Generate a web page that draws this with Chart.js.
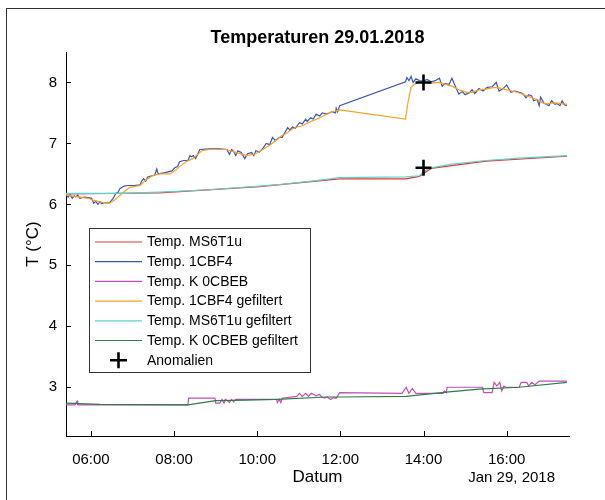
<!DOCTYPE html>
<html><head><meta charset="utf-8">
<script src="https://cdn.jsdelivr.net/npm/chart.js@4.4.1/dist/chart.umd.min.js"></script>
<style>html,body{margin:0;padding:0;background:#fff;}#wrap{width:605px;height:500px;position:relative;}</style>
</head><body><div id="wrap"><canvas id="c" width="605" height="500"></canvas></div>
<script>
// ---------- DATA ----------
const titleText = "Temperaturen 29.01.2018";
const dateLabel = "Jan 29, 2018";
const xTickHours = [6, 8, 10, 12, 14, 16];
const yTicks = [3, 4, 5, 6, 7, 8];
const seriesLabels = ["Temp. MS6T1u","Temp. 1CBF4","Temp. K 0CBEB","Temp. 1CBF4 gefiltert","Temp. MS6T1u gefiltert","Temp. K 0CBEB gefiltert","Anomalien"];

const ms6Times = ["05:24","07:39","10:03","11:59","13:35","13:54","14:11","15:30","17:27"];
const ms6Temps = [6.17,6.19,6.29,6.42,6.42,6.46,6.59,6.71,6.79];

const cbf4Times = ["05:24","05:27","05:30","05:33","05:36","05:38","05:41","05:44","05:50","05:56",
"06:01","06:04","06:07","06:10","06:13","06:16","06:19","06:25","06:27","06:32",
"06:36","06:39","06:42","06:48","06:53","07:02","07:11","07:13","07:16","07:19",
"07:22","07:28","07:32","07:35","07:37","07:47","07:57","08:01","08:05","08:08",
"08:14","08:20","08:23","08:25","08:28","08:31","08:34","08:37","08:51","09:06",
"09:16","09:20","09:23","09:26","09:29","09:32","09:37","09:42","09:46","09:52",
"09:55","09:58","10:03","10:09","10:13","10:18","10:22","10:26","10:32","10:36",
"10:41","10:44","10:47","10:51","10:55","11:01","11:05","11:10","11:12","11:17",
"11:21","11:25","11:30","11:34","11:40","11:44","11:48","11:53","11:54","11:56",
"11:59","13:34","13:36","13:39","13:42","13:45","13:49","13:54","14:00","14:05",
"14:11","14:17","14:23","14:27","14:31","14:37","14:41","14:47","14:51","14:56",
"15:00","15:06","15:10","15:14","15:20","15:26","15:32","15:39","15:45","15:49",
"15:55","16:00","16:06","16:12","16:18","16:23","16:28","16:32","16:36","16:39",
"16:44","16:47","16:49","16:54","16:58","17:01","17:05","17:10","17:12","17:17",
"17:20","17:23","17:27"];
const cbf4Temps = [6.15,6.12,6.16,6.10,6.14,6.12,6.15,6.10,6.12,6.11,
6.10,6.02,6.05,6.00,6.04,6.01,6.03,6.02,6.03,6.10,
6.18,6.20,6.26,6.30,6.31,6.31,6.32,6.38,6.42,6.38,
6.45,6.47,6.48,6.58,6.50,6.52,6.55,6.60,6.62,6.70,
6.72,6.72,6.80,6.78,6.80,6.75,6.82,6.90,6.91,6.91,
6.90,6.82,6.90,6.87,6.80,6.88,6.85,6.75,6.83,6.85,
6.80,6.88,6.86,6.93,7.00,6.98,7.10,7.05,7.10,7.10,
7.20,7.26,7.22,7.27,7.25,7.34,7.32,7.40,7.36,7.42,
7.40,7.48,7.45,7.50,7.48,7.50,7.52,7.50,7.58,7.52,
7.62,8.01,8.08,8.03,8.10,8.00,8.06,8.03,8.02,8.05,
8.01,8.03,8.07,7.94,7.98,7.97,8.07,7.91,7.81,7.85,
7.80,7.83,7.88,7.82,7.90,7.86,7.92,7.93,8.00,7.86,
7.90,7.96,7.84,7.86,7.84,7.82,7.75,7.80,7.78,7.70,
7.72,7.62,7.76,7.66,7.64,7.62,7.70,7.64,7.66,7.62,
7.70,7.64,7.62];

const k0Times = ["05:24","05:37","05:40","05:41","08:20","08:21","08:59","09:00","09:06","09:09",
"09:12","09:14","09:17","09:20","09:23","09:26","09:29","09:49","10:28","10:29",
"10:32","10:34","10:36","10:57","11:01","11:05","11:10","11:14","11:18","11:25",
"11:30","11:33","11:37","11:41","11:46","11:50","11:54","11:59","13:29","13:35",
"13:39","13:44","13:49","14:28","14:30","14:33","14:34","15:25","15:27","15:39",
"15:42","15:46","15:50","15:53","15:56","15:59","16:18","16:21","16:29","16:32",
"16:36","16:41","16:47","17:27"];
const k0Temps = [2.71,2.71,2.77,2.71,2.71,2.82,2.82,2.74,2.74,2.80,
2.74,2.80,2.78,2.75,2.80,2.76,2.80,2.80,2.80,2.75,
2.80,2.75,2.82,2.85,2.90,2.85,2.90,2.85,2.90,2.86,
2.88,2.84,2.82,2.84,2.80,2.83,2.82,2.91,2.90,3.00,
2.90,2.98,2.90,2.90,2.94,2.91,3.00,3.00,2.91,2.91,
3.08,3.02,3.08,2.94,3.02,3.00,3.00,3.08,3.08,3.02,
3.08,3.04,3.10,3.10];

const cbf4FiltTimes = ["05:24","05:33","05:44","05:56","06:03","06:13","06:22","06:27","06:35","06:42",
"06:49","06:56","07:11","07:19","07:29","07:39","07:54","08:01","08:08","08:17",
"08:27","08:34","08:40","08:51","09:16","09:30","09:45","09:58","10:08","10:18",
"10:26","10:36","10:44","10:51","10:58","11:05","11:12","11:20","11:30","11:40",
"11:48","11:59","13:34","13:38","13:42","13:48","13:54","14:05","14:12","14:23",
"14:31","14:41","14:51","14:59","15:06","15:13","15:20","15:30","15:39","15:46",
"15:53","16:00","16:08","16:15","16:22","16:29","16:36","16:44","16:51","16:58",
"17:05","17:15","17:27"];
const cbf4FiltTemps = [6.16,6.14,6.12,6.10,6.07,6.04,6.02,6.02,6.08,6.15,
6.22,6.28,6.31,6.40,6.47,6.50,6.50,6.55,6.62,6.70,
6.75,6.82,6.88,6.90,6.90,6.85,6.80,6.83,6.90,6.97,
7.04,7.13,7.18,7.24,7.27,7.29,7.33,7.37,7.42,7.48,
7.52,7.55,7.40,7.70,7.92,7.98,8.01,7.99,7.99,8.00,
7.97,7.94,7.88,7.85,7.83,7.85,7.88,7.89,7.91,7.92,
7.90,7.88,7.86,7.84,7.81,7.78,7.75,7.72,7.67,7.65,
7.66,7.66,7.64];

const ms6FiltTimes = ["05:24","06:42","07:39","08:51","10:03","10:36","11:25","11:59","13:35","13:54","14:02","14:11","14:41","15:30","16:18","17:27"];
const ms6FiltTemps = [6.18,6.18,6.20,6.24,6.30,6.33,6.39,6.44,6.45,6.47,6.55,6.60,6.66,6.72,6.76,6.80];

const k0FiltTimes = ["05:24","06:13","08:20","09:00","09:45","10:28","11:40","11:59","13:35","14:33","15:20","16:18","17:27"];
const k0FiltTemps = [2.74,2.72,2.71,2.78,2.79,2.80,2.84,2.84,2.85,2.92,2.97,3.00,3.08];

const anomalyTimes = ["14:00","14:00"];
const anomalyTemps = [8.0, 6.6];

const seriesColors = ["#e5363c","#3b57b3","#c24fb2","#f7a224","#5ed2c9","#2f7b4c","#000000"];

// ---------- BUILD ----------
function toHours(t){const p=t.split(':');return (+p[0])+(+p[1])/60;}
function pts(ts,vs){return ts.map((t,i)=>({x:toHours(t),y:vs[i]}));}
const FONT = "'Liberation Sans', Arial, Helvetica, sans-serif";
const seriesData = [pts(ms6Times,ms6Temps),pts(cbf4Times,cbf4Temps),pts(k0Times,k0Temps),
  pts(cbf4FiltTimes,cbf4FiltTemps),pts(ms6FiltTimes,ms6FiltTemps),pts(k0FiltTimes,k0FiltTemps)];
const datasets = seriesData.map((d,i)=>({
  label: seriesLabels[i], data: d, borderColor: seriesColors[i], backgroundColor: seriesColors[i],
  borderWidth: 1.2, pointRadius: 0, tension: 0, fill: false, order: 10 - i
}));
datasets.push({label: seriesLabels[6], data: pts(anomalyTimes, anomalyTemps), showLine: false,
  pointStyle: 'cross', pointRadius: 8, borderWidth: 2.6, borderColor: '#000', backgroundColor: '#000', order: 0});

const decor = {
  id: 'decor',
  afterDraw(chart){
    const ctx = chart.ctx, xs = chart.scales.x, ys = chart.scales.y, a = chart.chartArea;
    ctx.save();
    // figure frame
    ctx.strokeStyle = '#333'; ctx.lineWidth = 1;
    ctx.strokeRect(6.5, 8.5, 700, 600);
    // title centred over the axes
    ctx.fillStyle = '#000'; ctx.font = 'bold 18px ' + FONT; ctx.textAlign = 'center'; ctx.textBaseline = 'middle';
    ctx.fillText(titleText, (a.left + a.right) / 2, 38);
    // inward ticks
    ctx.strokeStyle = '#000'; ctx.lineWidth = 1; ctx.beginPath();
    xs.ticks.forEach(t=>{const px=Math.round(xs.getPixelForValue(t.value))+0.5; ctx.moveTo(px,a.bottom); ctx.lineTo(px,a.bottom-5);});
    ys.ticks.forEach(t=>{const py=Math.round(ys.getPixelForValue(t.value))+0.5; ctx.moveTo(a.left,py); ctx.lineTo(a.left+5,py);});
    ctx.stroke();
    // date label
    ctx.fillStyle = '#000'; ctx.font = '15px ' + FONT; ctx.textAlign = 'right'; ctx.textBaseline = 'middle';
    ctx.fillText(dateLabel, a.right - 14, 478);
    // legend
    const L = {x: 89.5, y: 228.5, w: 221, h: 144};
    ctx.fillStyle = '#fff'; ctx.fillRect(L.x, L.y, L.w, L.h);
    ctx.strokeStyle = '#333'; ctx.lineWidth = 1; ctx.strokeRect(L.x, L.y, L.w, L.h);
    ctx.font = '14px ' + FONT; ctx.textAlign = 'left'; ctx.textBaseline = 'middle';
    chart.data.datasets.forEach((ds,i)=>{
      const y = 242 + i*19.7;
      if (ds.pointStyle === 'cross') {
        ctx.strokeStyle = '#000'; ctx.lineWidth = 2.6; ctx.beginPath();
        ctx.moveTo(110, y); ctx.lineTo(127, y); ctx.moveTo(118.5, y-8); ctx.lineTo(118.5, y+8); ctx.stroke();
      } else {
        ctx.strokeStyle = ds.borderColor; ctx.lineWidth = 1.2; ctx.beginPath();
        ctx.moveTo(95, y); ctx.lineTo(142, y); ctx.stroke();
      }
      ctx.fillStyle = '#000'; ctx.fillText(ds.label, 147, y + 0.5);
    });
    ctx.restore();
  }
};

new Chart(document.getElementById('c'), {
  type: 'line',
  data: { datasets },
  plugins: [decor],
  options: {
    responsive: false, animation: false, devicePixelRatio: 1,
    layout: { padding: { left: 0, right: 36, top: 52, bottom: 0 } },
    plugins: { legend: { display: false }, tooltip: { enabled: false }, title: { display: false } },
    scales: {
      x: { type: 'linear', min: 5.4, max: 17.5,
        afterBuildTicks: s => { s.ticks = xTickHours.map(v => ({ value: v })); },
        afterFit: s => { s.height = 64; },
        grid: { display: false, drawTicks: false },
        border: { display: true, color: '#000', width: 1 },
        ticks: { color: '#000', font: { family: FONT, size: 15 }, padding: 15, maxRotation: 0,
          callback: v => String(v).padStart(2, '0') + ':00' },
        title: { display: true, text: 'Datum', color: '#000', font: { family: FONT, size: 17 }, padding: { top: 0, bottom: 12 } }
      },
      y: { type: 'linear', min: 2.2, max: 8.5,
        afterBuildTicks: s => { s.ticks = yTicks.map(v => ({ value: v })); },
        afterFit: s => { s.width = 66; },
        grid: { display: false, drawTicks: false },
        border: { display: true, color: '#000', width: 1 },
        ticks: { color: '#000', font: { family: FONT, size: 15 }, padding: 9, callback: v => String(v) },
        title: { display: true, text: 'T (°C)', color: '#000', font: { family: FONT, size: 17 }, padding: { top: 23, bottom: 0 } }
      }
    }
  }
});
</script></body></html>
